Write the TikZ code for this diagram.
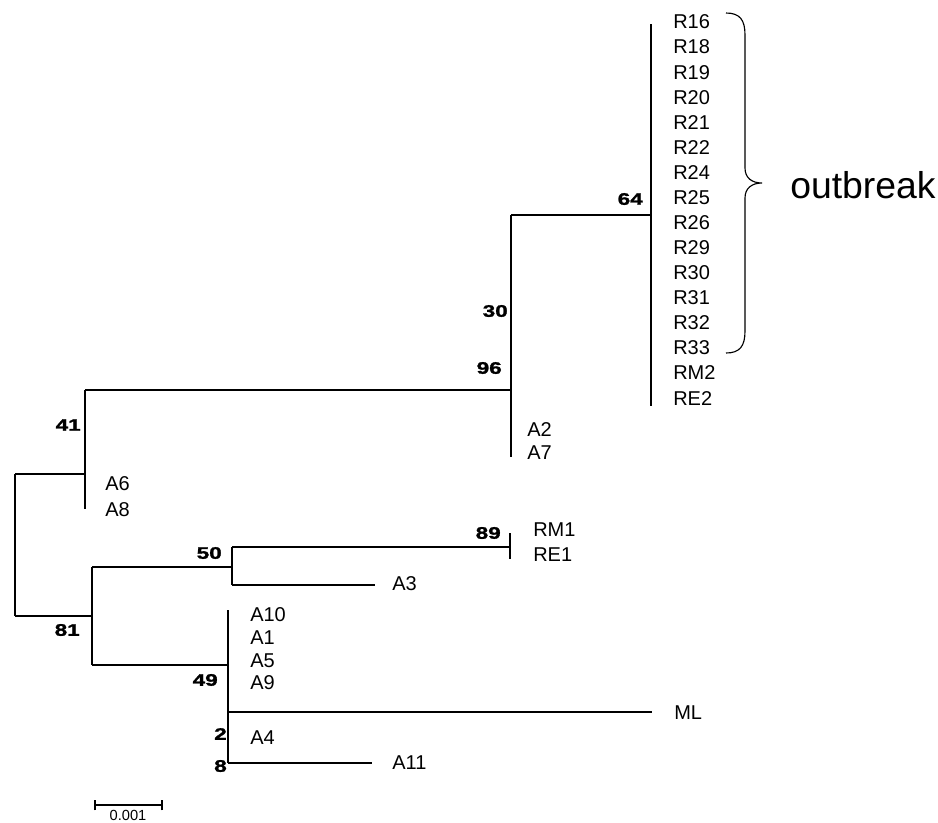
\documentclass[tikz,border=0pt]{standalone}
\usepackage{fontspec}
\setmainfont{Liberation Sans}
\newfontfamily\bootfont[FakeStretch=1.35,FakeBold=1.5]{Liberation Sans}
\begin{document}
\begin{tikzpicture}[x=0.75pt,y=-0.75pt,
  br/.style={line width=0.85pt},
  thk/.style={line width=1.9pt},
  leaf/.style={anchor=west,inner sep=0pt,font=\fontsize{15}{15}\selectfont},
  boot/.style={anchor=east,inner sep=0pt,font=\bootfont\bfseries\fontsize{12.5}{12.5}\selectfont},
  bigtext/.style={anchor=west,inner sep=0pt,font=\fontsize{28}{28}\selectfont},
  scaletext/.style={anchor=north,inner sep=0pt,font=\fontsize{11}{11}\selectfont}]
\useasboundingbox (0,0) rectangle (938,822);
% junction coordinates
\coordinate (rt) at (15,474);
\coordinate (rb) at (15,616);
\coordinate (n41) at (85,474);
\coordinate (n41t) at (85,390);
\coordinate (n41b) at (85,509);
\coordinate (n41k1) at (85,437);
\coordinate (n41k2) at (85,483);
\coordinate (n96) at (511,390);
\coordinate (n96t) at (511,215);
\coordinate (n96b) at (511,457);
\coordinate (n96k1) at (511,312);
\coordinate (n96k2) at (511,392);
\coordinate (n64) at (651,215);
\coordinate (n64t) at (651,24);
\coordinate (n64b) at (651,406);
\coordinate (n81) at (92,616);
\coordinate (n81t) at (92,567);
\coordinate (n81b) at (92,665);
\coordinate (n50) at (232,567);
\coordinate (n50t) at (232,547);
\coordinate (n50b) at (232,585);
\coordinate (n89) at (510,547);
\coordinate (n89t) at (510,533);
\coordinate (n89b) at (510,559);
\coordinate (a3end) at (375,585);
\coordinate (n49) at (228,665);
\coordinate (n49t) at (228,610);
\coordinate (n2) at (228,712);
\coordinate (n8) at (228,763);
\coordinate (n2k1) at (228,717);
\coordinate (n2k2) at (228,753);
\coordinate (mlend) at (652,712);
\coordinate (a11end) at (372,763);
% branches
\draw[br] (rt) -- (rb);
\draw[br] (rt) -- (n41);
\draw[br] (n41t) -- (n41b);
\draw[thk] (n41k1) -- (n41k2);
\draw[br] (n41t) -- (n96);
\draw[br] (n96t) -- (n96b);
\draw[thk,line width=1.3pt] (n96k1) -- (n96k2);
\draw[br] (n96t) -- (n64);
\draw[br] (n64t) -- (n64b);
\draw[br] (rb) -- (n81);
\draw[br] (n81t) -- (n81b);
\draw[br] (n81t) -- (n50);
\draw[br] (n50t) -- (n50b);
\draw[br] (n50t) -- (n89);
\draw[br] (n89t) -- (n89b);
\draw[br] (n50b) -- (a3end);
\draw[br] (n81b) -- (n49);
\draw[br] (n49t) -- (n8);
\draw[thk] (n2k1) -- (n2k2);
\draw[br] (n2) -- (mlend);
\draw[br] (n8) -- (a11end);
% leaves of the outbreak clade
\foreach \lab [count=\i from 0] in {R16,R18,R19,R20,R21,R22,R24,R25,R26,R29,R30,R31,R32,R33,RM2,RE2}
  \node[leaf] (L\lab) at (673,{22+25.07*\i}) {\lab};
\node[leaf] (LA2) at (527,430) {A2};
\node[leaf] (LA7) at (527,453) {A7};
\node[leaf] (LA6) at (105,484) {A6};
\node[leaf] (LA8) at (105,510) {A8};
\node[leaf] (LRM1) at (533,530) {RM1};
\node[leaf] (LRE1) at (533,555) {RE1};
\node[leaf] (LA3) at (392,584) {A3};
\node[leaf] (LA10) at (250,615) {A10};
\node[leaf] (LA1) at (250,638) {A1};
\node[leaf] (LA5) at (250,661) {A5};
\node[leaf] (LA9) at (250,683) {A9};
\node[leaf] (LA4) at (250,738) {A4};
\node[leaf] (LML) at (674,713) {ML};
\node[leaf] (LA11) at (392,763) {A11};
% bootstrap values
\node[boot] (b41) at (81,425) {41};
\node[boot] (b64) at (643,199) {64};
\node[boot] (b30) at (508,311) {30};
\node[boot] (b96) at (502,368) {96};
\node[boot] (b81) at (80,630) {81};
\node[boot] (b50) at (222,553) {50};
\node[boot] (b89) at (501,533) {89};
\node[boot] (b49) at (218,680) {49};
\node[boot] (b2) at (227,734) {2};
\node[boot] (b8) at (227,766) {8};
% outbreak brace
\draw[br] (726,13) .. controls (740,13) and (745,20) .. (745,35) -- (745,168)
  .. controls (745,178) and (752,183) .. (762,183)
  .. controls (752,183) and (745,188) .. (745,198) -- (745,331)
  .. controls (745,346) and (740,353) .. (726,353);
\node[bigtext] (outbreak) at (790,185) {outbreak};
% scale bar
\coordinate (sb1) at (95,805);
\coordinate (sb2) at (162,805);
\draw[br] (sb1) -- (sb2);
\draw[br] ([yshift=-4]sb1) -- ([yshift=4]sb1);
\draw[br] ([yshift=-4]sb2) -- ([yshift=4]sb2);
\node[scaletext] (sbl) at (128,810) {0.001};
\end{tikzpicture}
\end{document}
